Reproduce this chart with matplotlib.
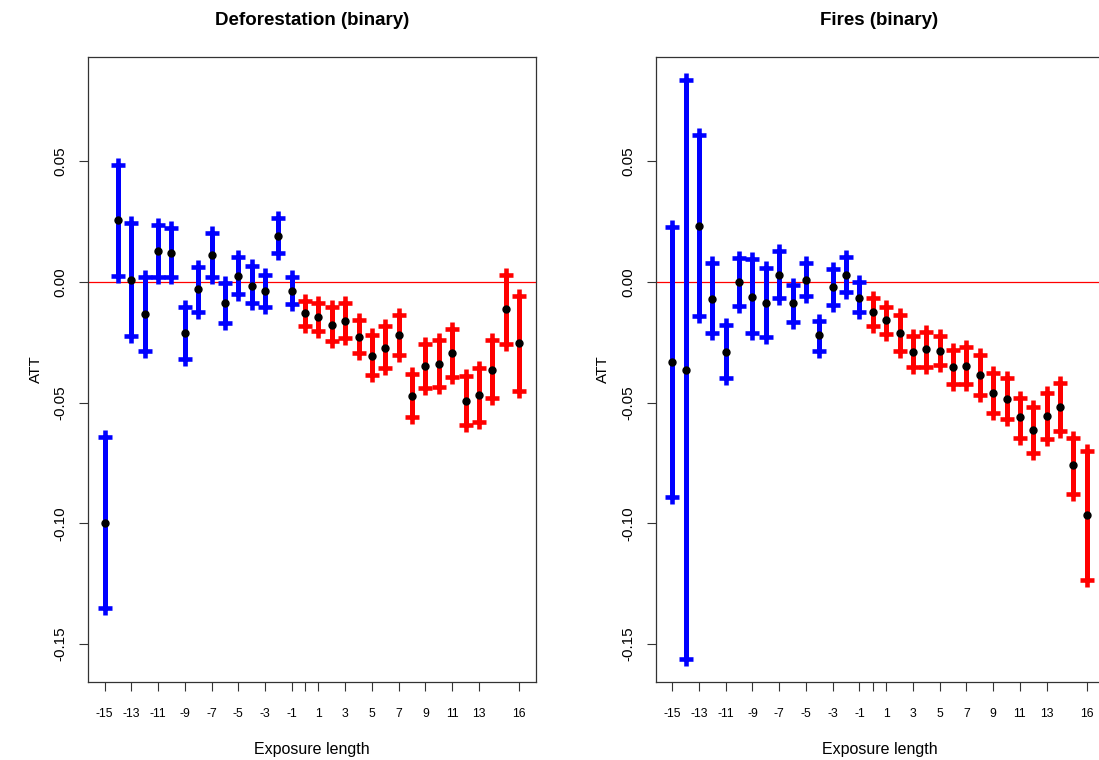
import numpy as np
import matplotlib
matplotlib.use("Agg")
import matplotlib.pyplot as plt

plt.rcParams['font.family'] = ['Liberation Sans', 'DejaVu Sans']

# Event time (exposure length)
exposure = list(range(-15, 17))

# Deforestation (binary): ATT estimates and confidence bounds
est_def = [-0.100, 0.0255, 0.001, -0.0133, 0.0127, 0.0120, -0.0210, -0.0031, 0.0111, -0.0088,
           0.0026, -0.0015, -0.0037, 0.0192, -0.0037, -0.0130, -0.0146, -0.0177, -0.0162, -0.0226,
           -0.0306, -0.0273, -0.0220, -0.0471, -0.0350, -0.0339, -0.0295, -0.0491, -0.0468, -0.0363,
           -0.0113, -0.0254]
lo_def = [-0.135, 0.0025, -0.0224, -0.0284, 0.0019, 0.0019, -0.0320, -0.0123, 0.0022, -0.0171,
          -0.0051, -0.0088, -0.0102, 0.0121, -0.0092, -0.0182, -0.0203, -0.0243, -0.0233, -0.0295,
          -0.0385, -0.0357, -0.0302, -0.0558, -0.0440, -0.0433, -0.0392, -0.0592, -0.0578, -0.0482,
          -0.0257, -0.0451]
hi_def = [-0.0642, 0.0484, 0.0243, 0.0022, 0.0236, 0.0222, -0.0102, 0.0063, 0.0202, -0.0003,
          0.0105, 0.0066, 0.0029, 0.0264, 0.0019, -0.0079, -0.0085, -0.0102, -0.0088, -0.0157,
          -0.0219, -0.0182, -0.0137, -0.0382, -0.0258, -0.0240, -0.0196, -0.0389, -0.0357, -0.0240,
          0.0029, -0.0058]

# Fires (binary): ATT estimates and confidence bounds
est_fire = [-0.0333, -0.0363, 0.0233, -0.0069, -0.0289, -0.0001, -0.0061, -0.0088, 0.0029, -0.0088,
            0.0007, -0.0221, -0.0022, 0.0029, -0.0065, -0.0123, -0.0159, -0.0210, -0.0289, -0.0276,
            -0.0284, -0.0353, -0.0347, -0.0385, -0.0458, -0.0483, -0.0560, -0.0613, -0.0555, -0.0516,
            -0.0759, -0.0966]
lo_fire = [-0.0889, -0.1561, -0.0141, -0.0212, -0.0399, -0.0098, -0.0212, -0.0229, -0.0065, -0.0167,
           -0.0057, -0.0284, -0.0095, -0.0043, -0.0126, -0.0181, -0.0215, -0.0284, -0.0351, -0.0353,
           -0.0344, -0.0424, -0.0424, -0.0468, -0.0544, -0.0569, -0.0645, -0.0709, -0.0650, -0.0616,
           -0.0879, -0.1234]
hi_fire = [0.0229, 0.0836, 0.0609, 0.0077, -0.0178, 0.0098, 0.0094, 0.0057, 0.0128, -0.0012,
           0.0077, -0.0160, 0.0053, 0.0104, -0.0001, -0.0065, -0.0102, -0.0137, -0.0224, -0.0206,
           -0.0224, -0.0282, -0.0271, -0.0302, -0.0376, -0.0399, -0.0479, -0.0516, -0.0458, -0.0417,
           -0.0645, -0.0699]

titles = ["Deforestation (binary)", "Fires (binary)"]
xtick_pos = [-15, -13, -11, -9, -7, -5, -3, -1, 0, 1, 3, 5, 7, 9, 11, 13, 16]
xtick_lab = ["" if t == 0 else str(t) for t in xtick_pos]
ytick_pos = [0.05, 0.00, -0.05, -0.10, -0.15]
ytick_lab = ["0.05", "0.00", "-0.05", "-0.10", "-0.15"]

PRE_COLOR = "#0000FF"
POST_COLOR = "#FF0000"

# shared y-range (R-style 4% padding around the widest intervals)
y_all_lo = min(min(lo_def), min(lo_fire))
y_all_hi = max(max(hi_def), max(hi_fire))
ypad = 0.04 * (y_all_hi - y_all_lo)
ylim = (y_all_lo - ypad, y_all_hi + ypad)
xpad = 0.04 * (max(exposure) - min(exposure))
xlim = (min(exposure) - xpad, max(exposure) + xpad)

W, H = 1099, 760
fig = plt.figure(figsize=(W / 100, H / 100), dpi=100)
axes = [fig.add_axes([88 / W, 78 / H, 447.6 / W, 625 / H]),
        fig.add_axes([655.7 / W, 78 / H, 447.6 / W, 625 / H])]

panels = [(est_def, lo_def, hi_def), (est_fire, lo_fire, hi_fire)]

for ax, title, (est, lo, hi) in zip(axes, titles, panels):
    x = np.array(exposure)
    est = np.array(est); lo = np.array(lo); hi = np.array(hi)
    ax.axhline(0, color="red", lw=0.9, zorder=1)
    for mask, col in [(x < 0, PRE_COLOR), (x >= 0, POST_COLOR)]:
        ax.vlines(x[mask], lo[mask], hi[mask], colors=col, lw=3.6, zorder=2)
        ax.plot(x[mask], lo[mask], ls="none", marker="+", ms=10.5, mew=3.3, color=col, zorder=2)
        ax.plot(x[mask], hi[mask], ls="none", marker="+", ms=10.5, mew=3.3, color=col, zorder=2)
    ax.plot(x, est, ls="none", marker="o", ms=5.0, color="black", zorder=3)

    ax.set_xlim(*xlim)
    ax.set_ylim(*ylim)
    ax.set_xticks(xtick_pos)
    ax.set_xticklabels(xtick_lab, fontsize=8.8)
    ax.set_yticks(ytick_pos)
    ax.set_yticklabels(ytick_lab, fontsize=11, rotation=90, va="center")
    ax.tick_params(axis="x", direction="out", length=6.5, width=0.8, color="#333333", pad=12)
    ax.tick_params(axis="y", direction="out", length=6.5, width=0.8, color="#333333", pad=8)
    for s in ax.spines.values():
        s.set_color("#333333")
        s.set_linewidth(0.9)
    ax.set_xlabel("Exposure length", fontsize=11.5, labelpad=16)
    ax.set_ylabel("ATT", fontsize=11, labelpad=8)
    ax.set_title(title, fontsize=13.5, fontweight="bold", pad=23)

fig.savefig("out.png", dpi=100)
